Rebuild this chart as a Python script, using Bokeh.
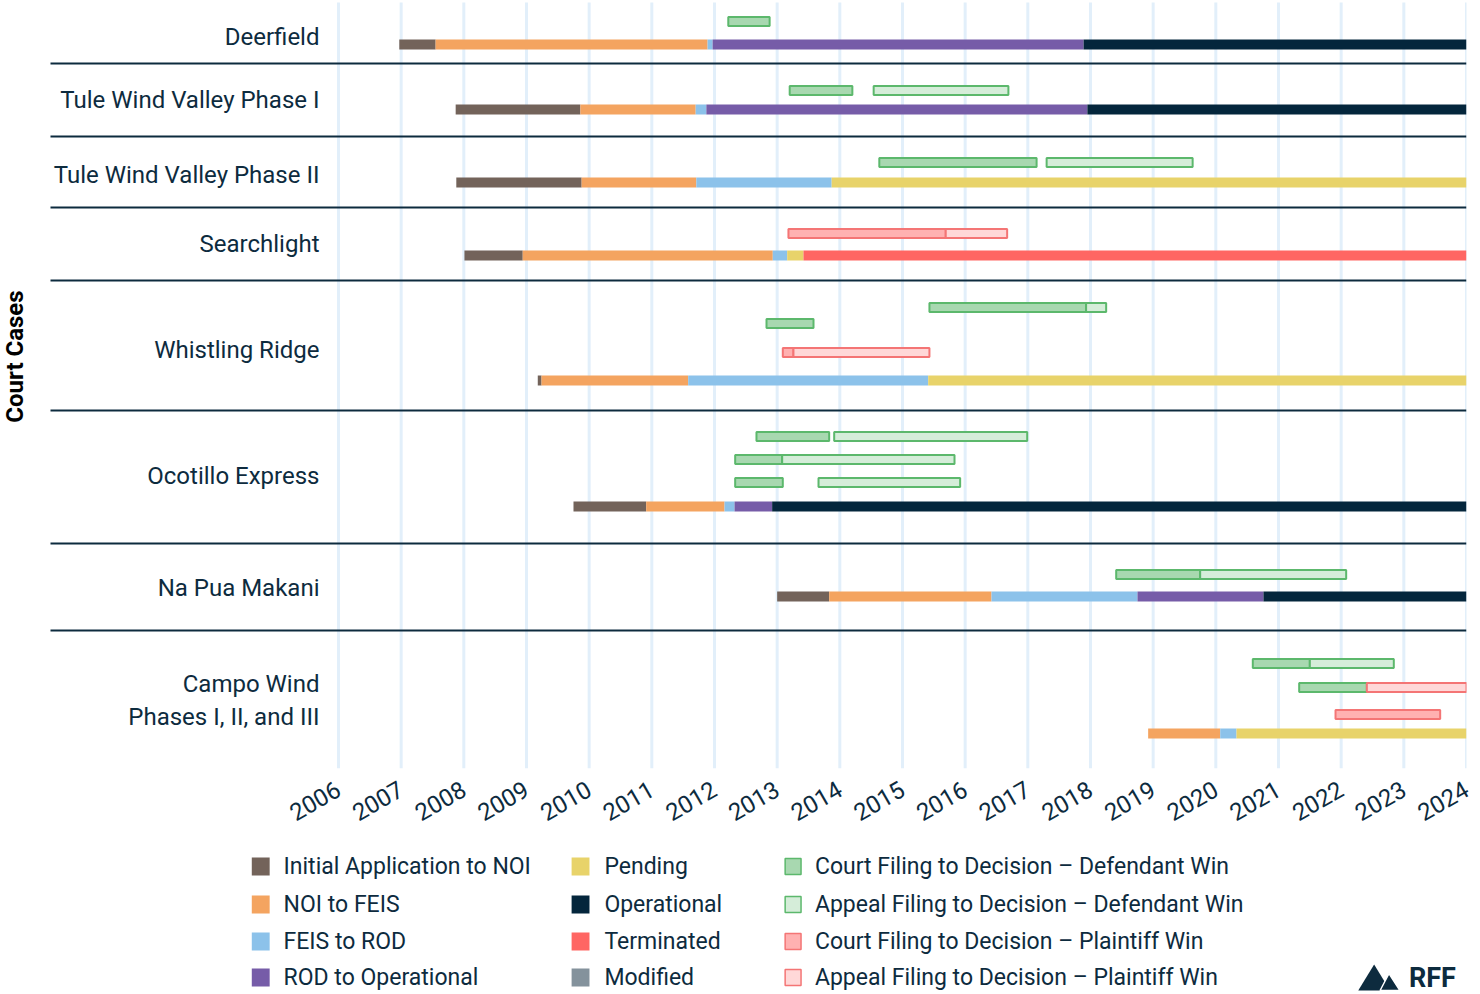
import math
from bokeh.plotting import figure
from bokeh.models import Range1d, FixedTicker
from bokeh.layouts import column
from bokeh.embed import file_html
from bokeh.resources import INLINE
from bokeh.core.properties import value

# ---------------- data ----------------
cases = ["Deerfield", "Tule Wind Valley Phase I", "Tule Wind Valley Phase II", "Searchlight",
         "Whistling Ridge", "Ocotillo Express", "Na Pua Makani", "Campo Wind\nPhases I, II, and III"]

years = list(range(2006, 2025))

phase_cats = ["Initial Application to NOI", "NOI to FEIS", "FEIS to ROD", "ROD to Operational",
              "Pending", "Operational", "Terminated", "Modified"]
court_cats = ["Court Filing to Decision \u2013 Defendant Win", "Appeal Filing to Decision \u2013 Defendant Win",
              "Court Filing to Decision \u2013 Plaintiff Win", "Appeal Filing to Decision \u2013 Plaintiff Win"]

# main project timeline phases (case index, phase index, start, end)
phase_case = [0, 0, 0, 0, 0,
              1, 1, 1, 1, 1,
              2, 2, 2, 2,
              3, 3, 3, 3, 3,
              4, 4, 4, 4,
              5, 5, 5, 5, 5,
              6, 6, 6, 6, 6,
              7, 7, 7]
phase_cat = [0, 1, 2, 3, 5,
             0, 1, 2, 3, 5,
             0, 1, 2, 4,
             0, 1, 2, 4, 6,
             0, 1, 2, 4,
             0, 1, 2, 3, 5,
             0, 1, 2, 3, 5,
             1, 2, 4]
phase_start = [2006.97, 2007.55, 2011.89, 2011.97, 2017.89,
               2007.87, 2009.86, 2011.70, 2011.87, 2017.95,
               2007.88, 2009.88, 2011.71, 2013.87,
               2008.01, 2008.94, 2012.93, 2013.16, 2013.42,
               2009.18, 2009.24, 2011.58, 2015.41,
               2009.75, 2010.91, 2012.16, 2012.32, 2012.92,
               2013.00, 2013.83, 2016.42, 2018.75, 2020.76,
               2018.92, 2020.07, 2020.33]
phase_end = [2007.55, 2011.89, 2011.97, 2017.89, 2024.0,
             2009.86, 2011.70, 2011.87, 2017.95, 2024.0,
             2009.88, 2011.71, 2013.87, 2024.0,
             2008.94, 2012.93, 2013.16, 2013.42, 2024.0,
             2009.24, 2011.58, 2015.41, 2024.0,
             2010.91, 2012.16, 2012.32, 2012.92, 2024.0,
             2013.83, 2016.42, 2018.75, 2020.76, 2024.0,
             2020.07, 2020.33, 2024.0]

# court cases (case index, lane, category index, start, end)
court_case = [0,
              1, 1,
              2, 2,
              3, 3,
              4, 4, 4, 4, 4,
              5, 5, 5, 5, 5, 5,
              6, 6,
              7, 7, 7, 7, 7]
court_lane = [0,
              0, 0,
              0, 0,
              0, 0,
              0, 0, 1, 2, 2,
              0, 0, 1, 1, 2, 2,
              0, 0,
              0, 0, 1, 1, 2]
court_cat = [0,
             0, 1,
             0, 1,
             2, 3,
             0, 1, 0, 2, 3,
             0, 1, 0, 1, 0, 1,
             0, 1,
             0, 1, 0, 3, 2]
court_start = [2012.22,
               2013.20, 2014.54,
               2014.63, 2017.30,
               2013.18, 2015.69,
               2015.43, 2017.93, 2012.83, 2013.09, 2013.26,
               2012.67, 2013.91, 2012.33, 2013.08, 2012.33, 2013.66,
               2018.41, 2019.75,
               2020.59, 2021.50, 2021.33, 2022.41, 2021.91]
court_end = [2012.88,
             2014.20, 2016.69,
             2017.14, 2019.63,
             2015.69, 2016.67,
             2017.93, 2018.25, 2013.58, 2013.26, 2015.43,
             2013.83, 2016.99, 2013.08, 2015.83, 2013.09, 2015.92,
             2019.75, 2022.08,
             2021.50, 2022.84, 2022.41, 2024.0, 2023.58]

# ---------------- styles / layout ----------------
TEXT = "#0D2B3E"
FONT = "Roboto"
phase_colors = ["#73635A", "#F4A460", "#8CC2EA", "#765CA8", "#E8D36A", "#04263C", "#FF6663", "#84929C"]
court_fill = ["#A8D8B0", "#D5EDD9", "#FFB1B1", "#FFD8D8"]
court_line = ["#5CB86C", "#5CB86C", "#F47575", "#F47575"]

W = 1476
Y_TOP, Y_BOT = 0, 768
row_bounds = [10, 63, 136, 207, 280, 410, 543, 630, 768]
label_nudge = [0, 0, 3, 0, 4, -1, 1, 1]
lane_y = [[21, 44], [90, 109], [162, 182], [233, 255],
          [307, 323, 352, 380], [436, 459, 482, 506], [574, 596], [663, 687, 714, 733]]

PX = 62.67  # pixels per year
X0 = 2006 - 338 / PX
x_at = lambda px: 2006 + (px - 338) / PX

p = figure(width=W, height=838, x_range=Range1d(X0, 2024), y_range=Range1d(Y_BOT, Y_TOP),
           output_backend="svg", toolbar_location=None, y_axis_location=None,
           min_border_left=0, min_border_right=W - 1466, min_border_top=0, min_border_bottom=70)
p.xgrid.visible = False
p.ygrid.visible = False
p.outline_line_color = None
p.background_fill_color = "white"
p.border_fill_color = "white"

ax = p.xaxis[0]
ax.ticker = FixedTicker(ticks=years)
ax.axis_line_color = None
ax.major_tick_line_color = None
ax.minor_tick_line_color = None
ax.major_tick_out = 0
ax.major_label_orientation = math.pi / 6
ax.major_label_text_font = FONT
ax.major_label_text_font_size = "24px"
ax.major_label_text_color = TEXT
ax.major_label_standoff = 19

# vertical gridlines
p.segment(x0=years, x1=years, y0=[Y_BOT] * len(years), y1=[2] * len(years),
          line_color="#E2EFFA", line_width=3)

# row separators
seps = row_bounds[1:-1]
p.segment(x0=[x_at(50)] * len(seps), x1=[2024] * len(seps), y0=seps, y1=seps,
          line_color=TEXT, line_width=2)

# main phase bars
BAR_H = 10
main_y = [lane_y[c][-1] for c in phase_case]
p.quad(left=phase_start, right=phase_end,
       top=[y - BAR_H / 2 for y in main_y], bottom=[y + BAR_H / 2 for y in main_y],
       fill_color=[phase_colors[k] for k in phase_cat], line_color=None)

# court bars
CB_H = 9
cy = [lane_y[c][l] for c, l in zip(court_case, court_lane)]
p.quad(left=court_start, right=court_end,
       top=[y - CB_H / 2 for y in cy], bottom=[y + CB_H / 2 for y in cy],
       fill_color=[court_fill[k] for k in court_cat], line_color=[court_line[k] for k in court_cat],
       line_width=2)

# case labels
label_y = [(a + b) / 2 + n for a, b, n in zip(row_bounds[:-1], row_bounds[1:], label_nudge)]
p.text(x=[x_at(319)] * len(cases), y=label_y, text=cases, text_align="right", text_baseline="middle",
       text_font=value(FONT), text_font_size=value("24px"), text_color=TEXT, text_line_height=1.15)

# y title
p.text(x=[x_at(15)], y=[356], text=["Court Cases"], angle=math.pi / 2, text_align="center",
       text_baseline="middle", text_font=value(FONT), text_font_size=value("24px"),
       text_font_style="bold", text_color="black")

# ---------------- legend ----------------
leg = figure(width=W, height=156, x_range=Range1d(0, W), y_range=Range1d(994, 838),
             output_backend="svg", toolbar_location=None, x_axis_location=None, y_axis_location=None,
             min_border=0)
leg.xgrid.visible = False
leg.ygrid.visible = False
leg.outline_line_color = None

rows_y = [866, 904, 941, 977]
sq_x = [262, 584, 798]
tx_x = [285, 608, 820]
SQ = 18

lx, ly, lfill, lline, ltext, tx, ty = [], [], [], [], [], [], []
for i, name in enumerate(phase_cats):
    col, row = divmod(i, 4)
    lx.append(sq_x[col]); ly.append(rows_y[row])
    lfill.append(phase_colors[i]); lline.append(phase_colors[i])
    tx.append(tx_x[col]); ty.append(rows_y[row]); ltext.append(name)
for i, name in enumerate(court_cats):
    lx.append(sq_x[2]); ly.append(rows_y[i])
    lfill.append(court_fill[i]); lline.append(court_line[i])
    tx.append(tx_x[2]); ty.append(rows_y[i]); ltext.append(name)

leg.rect(x=lx[:8], y=ly[:8], width=SQ, height=SQ, fill_color=lfill[:8], line_color=None)
leg.rect(x=lx[8:], y=ly[8:], width=SQ - 2, height=SQ - 2, fill_color=lfill[8:], line_color=lline[8:],
         line_width=1.5)
leg.text(x=tx, y=ty, text=ltext, text_align="left", text_baseline="middle",
         text_font=value(FONT), text_font_size=value("23px"), text_color=TEXT)

# RFF logo
leg.patch(x=[1367, 1383, 1399], y=[990, 964, 990], fill_color="#0D2B3E", line_color=None)
leg.patch(x=[1389, 1398, 1409], y=[990, 973, 990], fill_color="#0D2B3E", line_color="white", line_width=1.5)
leg.text(x=[1418], y=[977], text=["RFF"], text_align="left", text_baseline="middle",
         text_font=value(FONT), text_font_size=value("27px"), text_font_style="bold", text_color="#0D2B3E")

layout = column(p, leg, spacing=0)
open("out.html", "w").write(file_html(layout, INLINE))
